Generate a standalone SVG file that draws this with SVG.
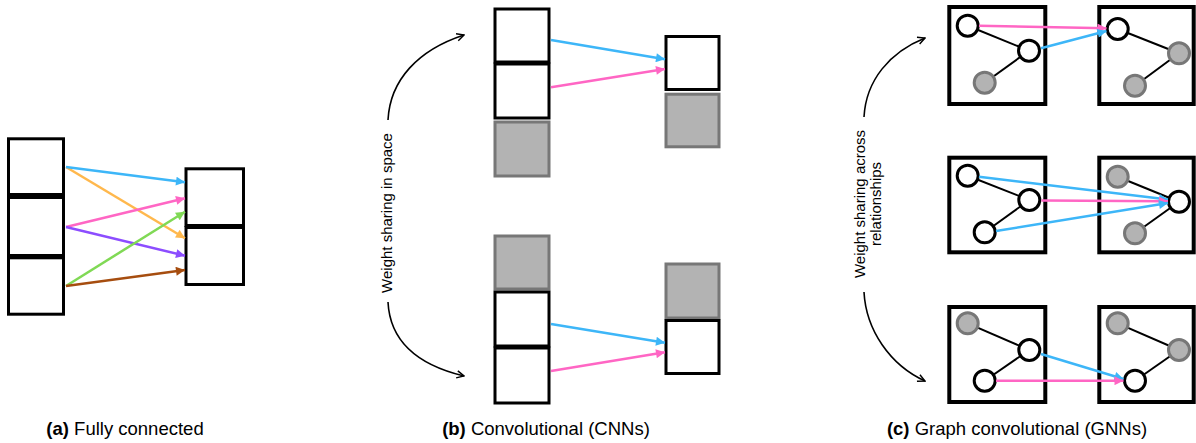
<svg xmlns="http://www.w3.org/2000/svg" width="1196" height="443" viewBox="0 0 1196 443">
  <style>
    .cell { fill: #ffffff; stroke: #000000; stroke-width: 3; }
    .pad { fill: #b3b3b3; stroke: #777777; stroke-width: 3; }
    .frame { fill: #ffffff; stroke: #000000; stroke-width: 4; }
    .on { fill: #ffffff; stroke: #000000; stroke-width: 3; }
    .off { fill: #b3b3b3; stroke: #777777; stroke-width: 3; }
    .edge { stroke: #000000; stroke-width: 2; fill: none; }
    .w { stroke-width: 2.5; fill: none; }
    .blue { stroke: #3db6f8; }
    .pink { stroke: #ff66c4; }
    .orange { stroke: #ffb84d; }
    .purple { stroke: #8c4dff; }
    .green { stroke: #80d955; }
    .brown { stroke: #a64d0f; }
    .share { stroke: #000000; stroke-width: 1.6; fill: none; marker-end: url(#open); }
    .lbl { font-family: "Liberation Sans", Arial, sans-serif; font-size: 15px; fill: #000000; text-anchor: middle; }
    .cap { font-family: "Liberation Sans", Arial, sans-serif; font-size: 18.5px; fill: #000000; text-anchor: middle; }
  </style>
  <defs>
    <marker id="hBlue" viewBox="0 0 10 10" refX="10" refY="5" markerWidth="10" markerHeight="9" markerUnits="userSpaceOnUse" orient="auto"><path d="M0,0 L10,5 L0,10 z" fill="#3db6f8"/></marker>
    <marker id="hPink" viewBox="0 0 10 10" refX="10" refY="5" markerWidth="10" markerHeight="9" markerUnits="userSpaceOnUse" orient="auto"><path d="M0,0 L10,5 L0,10 z" fill="#ff66c4"/></marker>
    <marker id="hOrange" viewBox="0 0 10 10" refX="10" refY="5" markerWidth="10" markerHeight="9" markerUnits="userSpaceOnUse" orient="auto"><path d="M0,0 L10,5 L0,10 z" fill="#ffb84d"/></marker>
    <marker id="hPurple" viewBox="0 0 10 10" refX="10" refY="5" markerWidth="10" markerHeight="9" markerUnits="userSpaceOnUse" orient="auto"><path d="M0,0 L10,5 L0,10 z" fill="#8c4dff"/></marker>
    <marker id="hGreen" viewBox="0 0 10 10" refX="10" refY="5" markerWidth="10" markerHeight="9" markerUnits="userSpaceOnUse" orient="auto"><path d="M0,0 L10,5 L0,10 z" fill="#80d955"/></marker>
    <marker id="hBrown" viewBox="0 0 10 10" refX="10" refY="5" markerWidth="10" markerHeight="9" markerUnits="userSpaceOnUse" orient="auto"><path d="M0,0 L10,5 L0,10 z" fill="#a64d0f"/></marker>
    <marker id="open" viewBox="0 0 10 10" refX="9" refY="5" markerWidth="9" markerHeight="9" markerUnits="userSpaceOnUse" orient="auto"><path d="M1,1 L9,5 L1,9" fill="none" stroke="#000000" stroke-width="1.6"/></marker>
  </defs>

  <!-- (a) fully connected layer -->
  <g id="fc-in">
    <rect class="cell" x="8.5" y="138.8" width="55" height="55.7"/>
    <rect class="cell" x="8.5" y="197.5" width="55" height="58"/>
    <rect class="cell" x="8.5" y="257.8" width="55" height="56.4"/>
  </g>
  <g id="fc-out">
    <rect class="cell" x="186" y="168.8" width="57.5" height="56.7"/>
    <rect class="cell" x="186" y="227.5" width="57.5" height="57"/>
  </g>

  <!-- (b) convolution, upper position -->
  <g id="conv-top-in">
    <rect class="pad" x="495" y="122" width="54" height="54"/>
    <rect class="cell" x="495" y="9" width="54" height="53"/>
    <rect class="cell" x="495" y="64" width="54" height="54"/>
  </g>
  <g id="conv-top-out">
    <rect class="pad" x="666" y="94.2" width="53" height="52.6"/>
    <rect class="cell" x="666" y="36.5" width="53" height="53"/>
  </g>

  <!-- (b) convolution, lower position -->
  <g id="conv-bot-in">
    <rect class="pad" x="495" y="236" width="54" height="53"/>
    <rect class="cell" x="495" y="292" width="54" height="54"/>
    <rect class="cell" x="495" y="348" width="54" height="55"/>
  </g>
  <g id="conv-bot-out">
    <rect class="pad" x="666" y="264" width="53" height="54"/>
    <rect class="cell" x="666" y="320.5" width="53" height="53"/>
  </g>

  <!-- (c) graph convolution, three relationships -->
  <g id="graph-top-in">
    <rect class="frame" x="949.3" y="7" width="96" height="97"/>
    <line class="edge" x1="967.7" y1="25.7" x2="1029" y2="50.7"/>
    <line class="edge" x1="1029" y1="50.7" x2="984.7" y2="82.7"/>
    <circle class="on" cx="967.7" cy="25.7" r="10.5"/>
    <circle class="on" cx="1029" cy="50.7" r="10.5"/>
    <circle class="off" cx="984.7" cy="82.7" r="10.5"/>
  </g>
  <g id="graph-top-out">
    <rect class="frame" x="1099.3" y="7" width="94.4" height="97"/>
    <line class="edge" x1="1117.7" y1="29" x2="1179" y2="53.3"/>
    <line class="edge" x1="1179" y1="53.3" x2="1135" y2="85.7"/>
    <circle class="on" cx="1117.7" cy="29" r="10.5"/>
    <circle class="off" cx="1179" cy="53.3" r="10.5"/>
    <circle class="off" cx="1135" cy="85.7" r="10.5"/>
  </g>
  <g id="graph-mid-in">
    <rect class="frame" x="949.3" y="157.7" width="96" height="94.6"/>
    <line class="edge" x1="967.7" y1="175.7" x2="1029.3" y2="200"/>
    <line class="edge" x1="1029.3" y1="200" x2="984.7" y2="232.3"/>
    <circle class="on" cx="967.7" cy="175.7" r="10.5"/>
    <circle class="on" cx="1029.3" cy="200" r="10.5"/>
    <circle class="on" cx="984.7" cy="232.3" r="10.5"/>
  </g>
  <g id="graph-mid-out">
    <rect class="frame" x="1099.3" y="157.7" width="94.4" height="94.6"/>
    <line class="edge" x1="1117.7" y1="176.7" x2="1179" y2="201.7"/>
    <line class="edge" x1="1179" y1="201.7" x2="1135" y2="233.3"/>
    <circle class="off" cx="1117.7" cy="176.7" r="10.5"/>
    <circle class="on" cx="1179" cy="201.7" r="10.5"/>
    <circle class="off" cx="1135" cy="233.3" r="10.5"/>
  </g>
  <g id="graph-bot-in">
    <rect class="frame" x="949.3" y="307" width="96" height="95"/>
    <line class="edge" x1="967.7" y1="323.3" x2="1029.3" y2="350"/>
    <line class="edge" x1="1029.3" y1="350" x2="984.7" y2="380.7"/>
    <circle class="off" cx="967.7" cy="323.3" r="10.5"/>
    <circle class="on" cx="1029.3" cy="350" r="10.5"/>
    <circle class="on" cx="984.7" cy="380.7" r="10.5"/>
  </g>
  <g id="graph-bot-out">
    <rect class="frame" x="1099.3" y="307" width="94.4" height="95"/>
    <line class="edge" x1="1117.7" y1="323.3" x2="1179" y2="350"/>
    <line class="edge" x1="1179" y1="350" x2="1135" y2="380.7"/>
    <circle class="off" cx="1117.7" cy="323.3" r="10.5"/>
    <circle class="off" cx="1179" cy="350" r="10.5"/>
    <circle class="on" cx="1135" cy="380.7" r="10.5"/>
  </g>

  <!-- weighted connections -->
  <g id="connectors">
    <line class="w orange" x1="66" y1="167" x2="185" y2="238.3" marker-end="url(#hOrange)"/>
    <line class="w blue" x1="66" y1="167" x2="185" y2="182.3" marker-end="url(#hBlue)"/>
    <line class="w pink" x1="66" y1="227" x2="185" y2="198.3" marker-end="url(#hPink)"/>
    <line class="w purple" x1="66" y1="227" x2="185" y2="255.7" marker-end="url(#hPurple)"/>
    <line class="w green" x1="66" y1="286" x2="185" y2="211.7" marker-end="url(#hGreen)"/>
    <line class="w brown" x1="66" y1="286" x2="185" y2="270" marker-end="url(#hBrown)"/>

    <line class="w blue" x1="551" y1="40" x2="665" y2="59.3" marker-end="url(#hBlue)"/>
    <line class="w pink" x1="551" y1="87.3" x2="665" y2="69" marker-end="url(#hPink)"/>
    <line class="w blue" x1="551" y1="324" x2="665" y2="342.7" marker-end="url(#hBlue)"/>
    <line class="w pink" x1="551" y1="371" x2="665" y2="352.3" marker-end="url(#hPink)"/>

    <line class="w pink" x1="979" y1="25.7" x2="1106.5" y2="28.3" marker-end="url(#hPink)"/>
    <line class="w blue" x1="1041" y1="48.3" x2="1106.5" y2="31" marker-end="url(#hBlue)"/>
    <line class="w blue" x1="979" y1="176.7" x2="1168" y2="199.5" marker-end="url(#hBlue)"/>
    <line class="w pink" x1="1041.5" y1="200.5" x2="1168" y2="201.2" marker-end="url(#hPink)"/>
    <line class="w blue" x1="996" y1="231" x2="1168" y2="203" marker-end="url(#hBlue)"/>
    <line class="w blue" x1="1041" y1="354" x2="1123.5" y2="379" marker-end="url(#hBlue)"/>
    <line class="w pink" x1="996" y1="380.7" x2="1123.5" y2="380.7" marker-end="url(#hPink)"/>

    <path class="share" d="M388,120 C390,80 418,50 464,35"/>
    <path class="share" d="M388,302 C390,342 418,365 464,376"/>
    <path class="share" d="M864,117 C866,80 890,52 925,38"/>
    <path class="share" d="M864,292 C866,330 890,365 925,381"/>
  </g>

  <!-- side labels -->
  <text class="lbl" transform="translate(392,213) rotate(-90)">Weight sharing in space</text>
  <text class="lbl" transform="translate(865,204) rotate(-90)">Weight sharing across</text>
  <text class="lbl" transform="translate(881,204) rotate(-90)">relationships</text>

  <!-- captions -->
  <text class="cap" x="125" y="435"><tspan font-weight="bold">(a)</tspan> Fully connected</text>
  <text class="cap" x="546" y="435"><tspan font-weight="bold">(b)</tspan> Convolutional (CNNs)</text>
  <text class="cap" x="1017" y="435"><tspan font-weight="bold">(c)</tspan> Graph convolutional (GNNs)</text>
</svg>
